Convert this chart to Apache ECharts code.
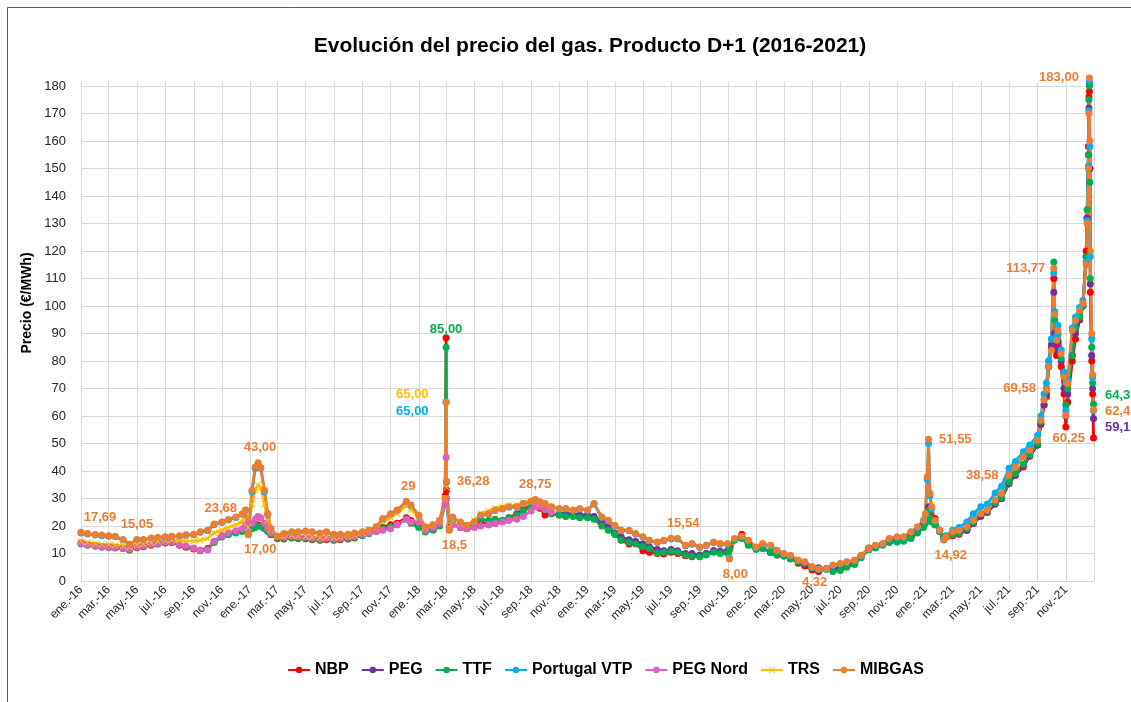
<!DOCTYPE html>
<html>
<head>
<meta charset="utf-8">
<title>Evolución del precio del gas</title>
<script src="https://cdn.jsdelivr.net/npm/echarts@6/dist/echarts.min.js"></script>
<style>
html, body { margin: 0; padding: 0; background: #fff; }
#grafico { width: 1131px; height: 702px; }
</style>
</head>
<body>
<div id="grafico"></div>
<script>
// Precio del gas, producto D+1 (€/MWh)
var _ = null;   // sin cotización en esa fecha

var fechas = [
  // 2016
  '2016-01-01','2016-01-15','2016-02-01','2016-02-15','2016-03-01','2016-03-15','2016-04-01','2016-04-15',
  '2016-05-01','2016-05-15','2016-06-01','2016-06-15','2016-07-01','2016-07-15','2016-08-01','2016-08-15',
  '2016-09-01','2016-09-15','2016-10-01','2016-10-15','2016-11-01','2016-11-15','2016-12-01','2016-12-15',
  '2016-12-22','2016-12-28',
  // 2017
  '2017-01-05','2017-01-12','2017-01-18','2017-01-24','2017-02-01','2017-02-08','2017-02-15','2017-03-01',
  '2017-03-15','2017-04-01','2017-04-15','2017-05-01','2017-05-15','2017-06-01','2017-06-15','2017-07-01',
  '2017-07-15','2017-08-01','2017-08-15','2017-09-01','2017-09-15','2017-10-01','2017-10-15','2017-11-01',
  '2017-11-15','2017-12-05','2017-12-15',
  // 2018
  '2018-01-01','2018-01-15','2018-02-01','2018-02-15','2018-02-27','2018-03-01','2018-03-02','2018-03-08',
  '2018-03-15','2018-04-01','2018-04-15','2018-05-01','2018-05-15','2018-06-01','2018-06-15','2018-07-01',
  '2018-07-15','2018-08-01','2018-08-15','2018-09-01','2018-09-10','2018-09-20','2018-10-01','2018-10-15',
  '2018-11-01','2018-11-15','2018-12-01','2018-12-15',
  // 2019
  '2019-01-01','2019-01-15','2019-02-01','2019-02-15','2019-03-01','2019-03-15','2019-04-01','2019-04-15',
  '2019-05-01','2019-05-15','2019-06-01','2019-06-15','2019-07-01','2019-07-15','2019-08-01','2019-08-15',
  '2019-09-01','2019-09-15','2019-10-01','2019-10-15','2019-10-31','2019-11-04','2019-11-15','2019-12-01',
  '2019-12-15',
  // 2020
  '2020-01-01','2020-01-15','2020-02-01','2020-02-15','2020-03-01','2020-03-15','2020-04-01','2020-04-15',
  '2020-05-01','2020-05-15','2020-06-01','2020-06-15','2020-07-01','2020-07-15','2020-08-01','2020-08-15',
  '2020-09-01','2020-09-15','2020-10-01','2020-10-15','2020-11-01','2020-11-15','2020-12-01','2020-12-15',
  '2020-12-28',
  // 2021
  '2021-01-01','2021-01-05','2021-01-08','2021-01-11','2021-01-15','2021-01-22','2021-02-01','2021-02-10',
  '2021-02-15','2021-03-01','2021-03-15','2021-04-01','2021-04-15','2021-05-01','2021-05-15','2021-06-01',
  '2021-06-15','2021-07-01','2021-07-15','2021-08-01','2021-08-15','2021-09-01','2021-09-08','2021-09-15',
  '2021-09-20','2021-09-25','2021-10-01','2021-10-06','2021-10-08','2021-10-12','2021-10-15','2021-10-22',
  '2021-10-28','2021-11-01','2021-11-05','2021-11-15','2021-11-22','2021-12-01','2021-12-08','2021-12-15',
  '2021-12-17','2021-12-20','2021-12-21','2021-12-22','2021-12-23','2021-12-24','2021-12-27','2021-12-29',
  '2021-12-31'
];

var nbp = [
  13.8,13.2,12.8,12.5,12.3,12.2,11.9,11.3,12.1,12.5,13.0,13.5,13.8,14.0,13.0,12.3,11.6,11.2,11.8,14.3,16.4,17.2,18.0,18.4,19.5,18.0,
  19.5,20.0,20.5,20.2,19.3,18.2,16.8,15.5,15.3,15.6,15.5,15.4,15.0,14.8,15.0,14.8,15.0,15.3,15.6,16.8,17.5,18.5,19.5,20.5,21.0,23.0,22.0,
  19.8,18.0,18.8,20.5,31.0,88.5,33.0,19.5,20.8,19.5,19.0,20.2,21.5,20.5,21.0,22.0,23.0,24.5,26.0,27.5,28.5,26.5,24.0,24.5,24.0,23.8,24.0,23.5,
  23.5,22.8,20.5,18.8,17.0,14.8,13.5,13.8,11.0,10.5,10.0,9.8,10.5,10.0,9.2,8.8,9.2,10.0,11.0,10.5,10.5,12.0,15.0,17.0,13.5,
  11.8,12.0,10.5,9.5,9.2,8.5,6.5,5.5,4.0,3.5,4.5,4.0,4.5,5.5,6.5,9.0,12.0,12.5,13.5,14.5,15.0,15.5,16.5,18.0,20.5,
  22.0,24.0,24.5,23.5,22.5,22.7,18.5,15.5,16.0,16.5,17.0,18.5,21.0,24.0,25.0,28.0,30.0,35.5,38.5,41.5,45.5,49.5,57.0,64.0,67.0,78.0,85.0,
  110.0,90.0,82.0,85.0,78.0,68.0,56.0,65.0,80.0,88.0,95.0,100.0,120.0,132.0,158.0,176.0,178.0,150.0,105.0,80.0,68.0,52.0
];

var peg = [
  _,_,_,_,_,_,_,_,_,_,_,_,_,_,_,_,_,_,_,_,_,_,_,_,_,_,
  _,_,_,_,_,_,_,_,_,_,_,_,_,_,_,_,_,_,_,_,_,_,_,_,_,_,_,
  _,_,_,_,_,_,_,_,_,_,_,_,_,_,_,_,_,_,_,_,_,_,_,_,24.5,24.5,24.3,24.0,
  24.0,23.5,21.5,19.5,17.5,16.0,15.0,14.5,13.5,12.5,11.5,11.0,11.5,11.0,10.0,10.0,9.5,10.0,11.0,10.8,11.0,12.0,15.0,15.8,13.5,
  11.8,12.0,10.5,9.8,9.5,8.5,7.0,6.5,5.0,4.8,4.5,4.5,4.8,5.5,6.5,9.0,11.5,12.5,13.5,14.5,15.0,15.2,16.0,18.0,20.0,
  21.5,24.0,27.0,24.0,22.0,20.5,18.0,15.5,16.0,16.8,17.5,18.5,21.0,23.5,25.0,28.0,30.0,35.5,38.5,42.0,45.5,49.5,57.0,64.0,68.0,78.0,86.0,
  105.0,90.0,84.0,87.0,80.0,70.0,60.0,68.0,82.0,90.0,95.0,100.0,118.0,132.0,155.0,172.0,181.0,150.0,108.0,82.0,70.0,59.1
];

var ttf = [
  13.5,13.0,12.6,12.4,12.2,12.0,11.8,11.5,12.3,12.6,13.2,13.6,14.0,14.2,13.2,12.5,11.8,11.0,11.5,14.0,16.0,16.8,17.5,18.0,19.0,17.5,
  19.0,19.5,20.0,19.8,19.0,18.0,17.0,15.8,15.5,15.8,15.7,15.6,15.2,15.0,15.3,15.0,15.2,15.5,15.8,16.5,17.2,18.0,19.0,19.8,20.5,22.5,21.0,
  19.5,17.8,18.5,20.0,28.0,85.0,30.0,19.0,20.5,19.8,19.5,20.5,22.5,22.0,22.5,22.0,23.0,24.0,25.5,27.0,28.0,27.0,26.0,24.5,24.0,23.5,23.5,23.0,
  23.0,22.5,20.0,18.5,17.0,15.0,14.0,13.5,12.5,11.8,10.2,10.5,10.8,10.5,9.5,9.0,8.8,9.5,10.5,10.0,10.2,11.5,14.8,15.5,13.0,
  11.5,11.8,10.5,9.5,9.0,8.0,7.0,6.5,4.8,4.5,4.2,3.5,3.8,5.0,6.0,8.5,11.5,12.0,13.0,14.0,14.2,14.5,15.5,17.5,19.5,
  21.0,22.5,25.5,23.0,21.5,20.5,18.0,16.0,16.5,16.8,17.5,19.0,21.5,24.5,25.5,28.5,30.5,36.0,39.0,42.5,46.0,50.0,58.0,66.0,70.0,80.0,88.0,
  116.0,95.0,88.0,90.0,81.0,75.0,64.0,70.0,82.0,92.0,96.0,100.0,118.0,135.0,155.0,175.0,180.0,145.0,110.0,85.0,72.0,64.3
];

var portugalVtp = [
  17.5,17.1,16.7,16.5,16.3,16.1,14.9,13.2,14.9,14.9,15.4,15.6,15.9,16.1,16.3,16.6,16.8,17.7,18.3,20.5,21.3,22.2,23.1,24.3,25.6,16.8,
  32.5,41.0,42.5,41.0,32.5,24.2,18.9,16.1,17.1,17.7,17.7,18.0,17.7,17.3,17.7,16.8,16.8,16.8,17.3,17.7,18.3,19.5,22.4,24.3,25.6,28.7,27.3,
  23.7,19.5,20.3,21.8,30.0,65.0,36.0,18.6,23.0,21.3,20.2,21.4,23.8,24.3,25.6,26.2,26.8,26.9,28.0,28.8,29.3,28.6,28.0,26.8,26.2,26.2,25.6,26.2,
  25.6,28.0,23.1,21.9,20.1,18.3,18.3,17.1,15.9,14.6,14.0,14.6,15.3,15.3,12.8,13.4,12.2,12.8,14.0,13.4,13.4,8.5,15.3,16.1,14.6,
  12.2,13.4,12.8,11.0,9.8,9.2,7.4,6.8,5.0,4.2,4.4,5.6,6.2,6.8,7.4,9.2,11.6,12.8,13.4,15.3,15.9,15.9,17.7,19.5,21.9,
  24.0,37.0,50.0,31.0,26.5,21.8,18.3,15.0,16.3,18.5,19.5,21.5,24.5,27.0,28.0,32.0,34.5,41.0,43.5,47.0,49.5,53.0,60.0,68.0,72.0,80.0,88.0,
  112.0,98.0,89.0,93.0,84.0,76.0,62.0,73.0,92.0,96.0,99.5,102.0,116.0,131.0,151.0,171.0,182.0,158.0,118.0,88.0,74.0,62.0
];

// PEG Nord y TRS cotizan hasta octubre de 2018
var pegNord = [
  13.6,13.1,12.7,12.4,12.3,12.1,11.9,11.6,12.4,12.7,13.3,13.7,14.1,14.3,13.4,12.8,12.0,11.2,11.3,14.5,16.5,17.5,18.3,19.0,20.5,18.0,
  21.0,22.5,23.5,23.0,21.0,19.0,17.5,16.2,16.0,16.3,16.1,16.0,15.6,15.4,15.6,15.4,15.6,15.9,16.2,17.0,17.5,18.0,18.5,19.0,20.5,22.5,21.5,
  21.5,18.5,19.5,21.0,28.0,45.0,30.0,19.0,20.5,19.5,19.0,19.5,20.0,20.5,21.0,21.5,22.0,22.5,23.5,25.5,27.0,27.0,26.0,25.0
];

var trs = [
  14.5,14.0,13.6,13.4,13.3,13.1,12.8,12.4,13.2,13.5,14.0,14.4,14.8,15.0,14.8,14.6,14.5,14.8,15.5,17.5,18.5,19.5,20.5,21.5,25.0,19.5,
  28.0,33.0,35.0,34.0,28.0,22.0,18.5,16.5,16.3,16.6,16.4,16.3,16.0,15.8,16.0,15.8,16.0,16.3,16.6,17.5,18.5,19.5,21.5,23.0,24.5,27.5,26.0,
  23.0,19.5,20.5,22.0,30.0,65.0,34.0,19.5,22.0,21.0,20.5,22.0,24.5,25.5,26.5,27.0,27.5,27.5,28.5,29.0,29.5,28.5,28.0,27.0
];

var mibgas = [
  17.69,17.3,16.9,16.7,16.5,16.3,15.1,13.4,15.05,15.1,15.6,15.8,16.1,16.3,16.5,16.8,17.0,17.9,18.5,20.7,21.5,22.4,23.3,24.5,25.8,17.0,
  33.0,41.5,43.0,41.3,33.0,24.5,19.1,16.3,17.3,17.9,17.9,18.2,17.9,17.5,17.9,17.0,17.0,17.0,17.5,17.9,18.5,19.7,22.7,24.5,25.8,29.0,27.6,
  23.9,19.7,20.5,22.0,30.0,65.0,36.28,18.5,23.3,21.5,20.3,21.5,24.0,24.5,25.8,26.4,27.0,27.0,28.2,29.0,29.6,28.8,28.2,27.0,26.4,26.4,25.8,26.4,
  25.8,28.2,23.3,22.1,20.3,18.5,18.5,17.3,16.1,14.8,14.2,14.8,15.54,15.5,13.0,13.6,12.4,13.0,14.2,13.6,13.6,8.0,15.5,16.3,14.8,
  12.4,13.6,13.0,11.2,10.0,9.4,7.6,7.0,5.2,4.32,4.5,5.8,6.4,7.0,7.6,9.4,11.8,13.0,13.6,15.5,16.1,16.1,17.9,19.7,22.1,
  24.5,37.9,51.55,31.8,27.0,22.0,18.5,14.92,16.1,17.9,18.5,19.7,22.1,24.5,25.8,29.4,31.8,38.58,41.5,45.2,47.6,51.2,58.5,65.8,69.58,77.9,83.9,
  113.77,97.0,87.6,91.0,82.7,74.2,60.25,71.8,91.2,94.8,98.5,101.0,115.0,130.0,150.0,170.0,183.0,160.0,120.0,90.0,75.0,62.4
];

var nombres = ['NBP', 'PEG', 'TTF', 'Portugal VTP', 'PEG Nord', 'TRS', 'MIBGAS'];
var valores = [nbp, peg, ttf, portugalVtp, pegNord, trs, mibgas];
var meses = ['ene.', 'feb.', 'mar.', 'abr.', 'may.', 'jun.', 'jul.', 'ago.', 'sep.', 'oct.', 'nov.', 'dic.'];

// etiquetas de datos: serie, fecha, texto
var etiquetas = [
  ['MIBGAS', '2016-01-01', '17,69'],
  ['MIBGAS', '2016-05-01', '15,05'],
  ['MIBGAS', '2016-12-22', '23,68'],
  ['MIBGAS', '2016-12-28', '17,00'],
  ['MIBGAS', '2017-01-18', '43,00'],
  ['MIBGAS', '2017-12-05', '29'],
  ['MIBGAS', '2018-03-02', '36,28'],
  ['MIBGAS', '2018-03-08', '18,5'],
  ['MIBGAS', '2018-09-10', '28,75'],
  ['TRS', '2018-03-01', '65,00'],
  ['Portugal VTP', '2018-03-01', '65,00'],
  ['TTF', '2018-03-01', '85,00'],
  ['MIBGAS', '2019-07-01', '15,54'],
  ['MIBGAS', '2019-11-04', '8,00'],
  ['MIBGAS', '2020-05-15', '4,32'],
  ['MIBGAS', '2021-01-08', '51,55'],
  ['MIBGAS', '2021-02-10', '14,92'],
  ['MIBGAS', '2021-07-01', '38,58'],
  ['MIBGAS', '2021-09-20', '69,58'],
  ['MIBGAS', '2021-10-06', '113,77'],
  ['MIBGAS', '2021-11-01', '60,25'],
  ['MIBGAS', '2021-12-22', '183,00'],
  ['TTF', '2021-12-31', '64,3'],
  ['MIBGAS', '2021-12-31', '62,4'],
  ['PEG', '2021-12-31', '59,1']
];

// colocación de cada etiqueta (mismo orden que arriba)
var colocacion = [
  ['top', [19, 0]], ['top', [0, 0]], ['left', [0, -2]], ['bottom', [12, 0]], ['top', [2, 0]],
  ['top', [2, 0]], ['right', [2, 0]], ['bottom', [5, 0]], ['top', [0, 0]],
  ['left', [-9, -8]], ['left', [-9, 9]], ['top', [0, -3]],
  ['top', [12, 0]], ['bottom', [6, 0]], ['bottom', [-4, -2]],
  ['right', [2, 0]], ['bottom', [7, 0]], ['left', [-2, 0]], ['left', [-2, -1]], ['left', [0, 0]],
  ['bottom', [3, 8]], ['left', [-2, 0]], ['right', [3, -9]], ['right', [3, 2]], ['right', [3, 9]]
];

var colores = ['#FF0000', '#7030A0', '#00B050', '#00B0F0', '#DD5FC0', '#FFC000', '#ED7D31'];
var fuente = '"Liberation Sans", Arial, sans-serif';
var cruz = 'path://M1,0L5,4L9,0L10,1L6,5L10,9L9,10L5,6L1,10L0,9L4,5L0,1Z';

// fecha 'aaaa-mm-dd' -> milisegundos (hora local)
function aTiempo(f) {
  var p = f.split('-');
  return new Date(+p[0], +p[1] - 1, +p[2]).getTime();
}

function serieDatos(nombre, vals, color) {
  var datos = [];
  vals.forEach(function (v, i) {
    if (v === null) return;
    var item = { value: [aTiempo(fechas[i]), v] };
    etiquetas.forEach(function (e, k) {
      if (e[0] === nombre && e[1] === fechas[i]) {
        item.label = {
          show: true,
          formatter: e[2],
          position: colocacion[k][0],
          offset: colocacion[k][1],
          color: color,
          fontWeight: 'bold',
          fontSize: 13,
          fontFamily: fuente
        };
      }
    });
    datos.push(item);
  });
  return datos;
}

// marcas del eje X cada dos meses
var marcas = [];
for (var a = 2016; a <= 2021; a++) {
  for (var m = 0; m < 12; m += 2) marcas.push(new Date(a, m, 1).getTime());
}
marcas.push(new Date(2022, 0, 1).getTime());

var myChart = echarts.init(document.getElementById('grafico'));

var option = {
  backgroundColor: '#fff',
  animation: false,
  title: {
    text: 'Evolución del precio del gas. Producto D+1 (2016-2021)',
    left: 585,
    top: 31,
    textAlign: 'center',
    textStyle: { fontSize: 21, fontWeight: 'bold', color: '#000', fontFamily: fuente }
  },
  legend: {
    data: nombres,
    left: 287,
    top: 662,
    padding: 0,
    itemGap: 12,
    itemWidth: 22,
    itemHeight: 8,
    textStyle: { fontSize: 16, fontWeight: 'bold', color: '#000', fontFamily: fuente }
  },
  grid: { left: 81, right: 37, top: 82, bottom: 121 },
  xAxis: {
    type: 'value',
    min: marcas[0],
    max: marcas[marcas.length - 1],
    axisLine: { lineStyle: { color: '#d9d9d9' } },
    axisTick: { show: false, customValues: marcas },
    splitLine: { show: true, lineStyle: { color: '#d9d9d9', width: 1 } },
    axisLabel: {
      customValues: marcas.slice(0, -1),
      rotate: 45,
      hideOverlap: false,
      margin: 7,
      color: '#262626',
      fontSize: 12,
      fontFamily: fuente,
      formatter: function (val) {
        var d = new Date(val);
        return meses[d.getMonth()] + '-' + String(d.getFullYear()).slice(2);
      }
    }
  },
  yAxis: {
    type: 'value',
    min: 0,
    max: 181.5,
    interval: 10,
    axisLine: { show: false },
    axisTick: { show: false },
    splitLine: { lineStyle: { color: '#d9d9d9', width: 1 }, showMaxLine: false },
    axisLabel: { showMaxLabel: false, margin: 15, color: '#262626', fontSize: 13, fontFamily: fuente }
  },
  graphic: [
    {
      type: 'rect',
      shape: { x: 7.5, y: 7.5, width: 1300, height: 900 },
      style: { fill: 'none', stroke: '#595959', lineWidth: 1 },
      silent: true
    },
    {
      type: 'text',
      x: 27,
      y: 303,
      rotation: Math.PI / 2,
      style: {
        text: 'Precio (€/MWh)',
        font: 'bold 14px ' + fuente,
        fill: '#000',
        align: 'center',
        verticalAlign: 'middle'
      }
    }
  ],
  series: nombres.map(function (n, i) {
    return {
      name: n,
      type: 'line',
      data: serieDatos(n, valores[i], colores[i]),
      symbol: n === 'TRS' ? cruz : 'circle',
      symbolSize: 7,
      showSymbol: true,
      showAllSymbol: true,
      clip: false,
      color: colores[i],
      lineStyle: { width: 2.8, color: colores[i] },
      itemStyle: { color: colores[i] },
      emphasis: { disabled: true }
    };
  })
};

myChart.setOption(option);
</script>
</body>
</html>
